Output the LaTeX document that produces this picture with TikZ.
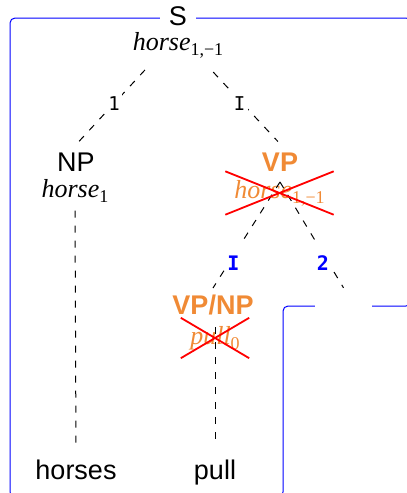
\documentclass[tikz,border=0pt]{standalone}
\usepackage{fontspec}
\setmainfont{Liberation Sans}
\newfontfamily\semfont{Liberation Serif}
\newfontfamily\edgefont{DejaVu Sans Mono}
\definecolor{catorange}{RGB}{240,138,53}
\newcommand\semterm[2]{{\semfont\itshape #1}{\semfont\fontsize{18}{18}\selectfont\raisebox{-5pt}{#2}}}
\tikzset{
  cat/.style={font=\fontsize{27}{30}\selectfont, inner sep=2pt},
  deadcat/.style={cat, text=catorange, font=\fontsize{27}{30}\selectfont\bfseries},
  sem/.style={font=\fontsize{26}{28}\selectfont, inner sep=2pt},
  deadsem/.style={sem, text=catorange, inner sep=0pt},
  word/.style={cat, anchor=base},
  edge/.style={draw=black, line width=1pt, dash pattern=on 7pt off 8pt},
  lbl/.style={fill=white, inner sep=0pt, minimum width=16pt, minimum height=32pt,
    font=\edgefont\fontsize{19}{19}\selectfont},
  blbl/.style={lbl, minimum height=40pt, text=blue,
    font=\edgefont\bfseries\fontsize{20}{20}\selectfont},
  frame/.style={draw=blue, line width=1pt, rounded corners=5pt},
  xmark/.style={draw=red, line width=1.8pt},
}
\begin{document}
\begin{tikzpicture}[x=1pt, y=-1pt]
  \useasboundingbox (0,0) rectangle (407,493);
  \clip (0,0) rectangle (407,493);

  % outline of the chart region
  \draw[frame] (10,18) -- (411,18) -- (411,306) -- (283,306) -- (283,497)
               -- (10,497) -- cycle;

  % categories and their meanings
  \node[cat, fill=white, inner xsep=9pt] (S) at (178,16) {S};
  \node[sem] (Ssem) at (178,45) {\semterm{horse}{1,−1}};
  \node[cat] (NP) at (76,162) {NP};
  \node[sem] (NPsem) at (75,191) {\semterm{horse}{1}};
  \node[deadcat] (VP) at (280,162) {VP};
  \node[deadsem, minimum width=108pt, minimum height=43pt] (VPsem) at (279.5,193)
       {\semterm{horse}{1,−1}};
  \node[deadcat] (VPNP) at (213,305) {VP/NP};
  \node[deadsem, minimum width=68pt, minimum height=40pt] (VPNPsem) at (215,338)
       {\semterm{pull}{0}};
  \node[fill=white, minimum width=57pt, minimum height=36pt, inner sep=0pt] (open) at (343.5,306) {};
  \node[word] (horses) at (76,479) {horses};
  \node[word] (pull) at (215,479) {pull};

  % branches
  \draw[edge, shorten <=34pt, shorten >=28pt]
    ([xshift=-10pt]Ssem.center) -- node[lbl]{1} ([xshift=-16pt]NP.center);
  \draw[edge, shorten <=37pt, shorten >=28pt]
    ([xshift=10pt]Ssem.center) -- node[lbl, xshift=-3pt]{I} ([xshift=17pt]VP.center);
  \draw[edge]
    ([yshift=-20pt]VP.center) -- node[blbl, pos=0.77, xshift=5pt]{I} ([yshift=17pt]VPNP.center);
  \draw[edge]
    ([yshift=-20pt]VP.center) -- node[blbl, pos=0.77, xshift=-6pt]{2} (open.north);
  \draw[edge, shorten <=6pt, shorten >=13pt] (NPsem.south) -- (horses.north);
  \draw[edge, shorten >=13pt] ([yshift=11pt]VPNPsem.center) -- (pull.north);

  % struck-out meanings
  \draw[xmark] (VPsem.north west) -- (VPsem.south east);
  \draw[xmark] (VPsem.south west) -- (VPsem.north east);
  \draw[xmark] (VPNPsem.north west) -- (VPNPsem.south east);
  \draw[xmark] (VPNPsem.south west) -- (VPNPsem.north east);
\end{tikzpicture}
\end{document}
